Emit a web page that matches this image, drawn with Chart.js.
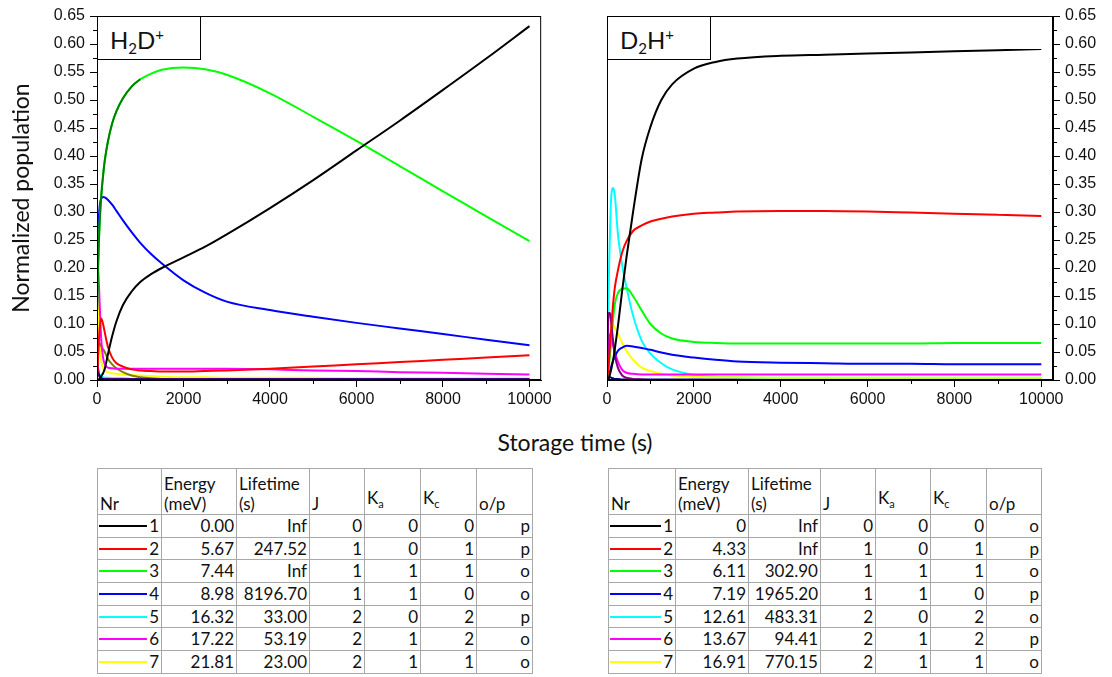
<!DOCTYPE html>
<html>
<head>
<meta charset="utf-8">
<script src="https://cdn.jsdelivr.net/npm/chart.js@4.4.1/dist/chart.umd.min.js"></script>
<style>
  body { margin: 0; background: #fff; width: 1112px; height: 677px; position: relative; overflow: hidden; }
  canvas { position: absolute; }
  #cL { left: 0; top: 0; }
  #cR { left: 557px; top: 0; }
  .tag { position: absolute; top: 16px; width: 104px; height: 44px; border: 1px solid #000; box-sizing: border-box;
         font: 24px Lato, sans-serif; color: #111; padding: 8px 0 0 12px; background: #fff; }
  .tag sub { font-size: 15px; vertical-align: -5px; }
  .tag sup { font-size: 15px; vertical-align: 9px; }
  #xTitle { position: absolute; left: 0; width: 1150px; top: 428px; text-align: center; font: 23px Lato, sans-serif; color: #111; }
  table { position: absolute; top: 468px; border-collapse: collapse; table-layout: fixed; font: 17px Lato, sans-serif; color: #111; }
  td, th { border: 1px solid #a8a8a8; padding: 0 2px; overflow: hidden; white-space: nowrap; }
  th { font-weight: normal; text-align: left; vertical-align: bottom; height: 45px; line-height: 20px; white-space: normal; }
  td { text-align: right; height: 21.7px; line-height: 20px; }
  td.nr { position: relative; }
  .sw { position: absolute; left: 1px; right: 14px; top: 50%; height: 2px; margin-top: -1px; }
  sub.k { font-size: 11px; vertical-align: -4px; }
</style>
</head>
<body>
<canvas id="cL" width="555" height="420"></canvas>
<canvas id="cR" width="555" height="420"></canvas>
<div class="tag" style="left:97px">H<sub>2</sub>D<sup>+</sup></div>
<div class="tag" style="left:607px">D<sub>2</sub>H<sup>+</sup></div>
<div id="xTitle">Storage time (s)</div>
<table id="tblL"></table>
<table id="tblR"></table>
<script>
// storage time grid (s), shared by all curves
const T = [0, 25, 50, 75, 100, 140, 180, 250, 350, 450, 600, 800, 1000, 1250, 1500, 2000, 2500, 3000, 4000, 5000, 6000, 7000, 8000, 9000, 10000];

const xTicks = [0, 2000, 4000, 6000, 8000, 10000];
const xMinor = [1000, 3000, 5000, 7000, 9000];
const yTicks = [0, 0.05, 0.1, 0.15, 0.2, 0.25, 0.3, 0.35, 0.4, 0.45, 0.5, 0.55, 0.6, 0.65];
const yMinor = [0.025, 0.075, 0.125, 0.175, 0.225, 0.275, 0.325, 0.375, 0.425, 0.475, 0.525, 0.575, 0.625];

// H2D+ populations
const h2dBlack   = [0, 0, 0.002, 0.004, 0.007, 0.012, 0.02, 0.045, 0.078, 0.105, 0.134, 0.158, 0.175, 0.189, 0.2, 0.219, 0.238, 0.26, 0.307, 0.357, 0.41, 0.463, 0.518, 0.574, 0.632];
const h2dRed     = [0, 0.04, 0.08, 0.103, 0.11, 0.1, 0.085, 0.06, 0.04, 0.03, 0.024, 0.019, 0.017, 0.016, 0.015, 0.015, 0.016, 0.017, 0.02, 0.024, 0.028, 0.032, 0.036, 0.04, 0.044];
const h2dGreen   = [0.12, 0.2, 0.26, 0.3, 0.33, 0.365, 0.392, 0.425, 0.458, 0.48, 0.503, 0.524, 0.537, 0.547, 0.554, 0.558, 0.555, 0.545, 0.512, 0.47, 0.427, 0.382, 0.337, 0.292, 0.248];
const h2dDkGreen = [0.12, 0.2, 0.26, 0.3, 0.33, 0.365, 0.392, 0.425, 0.458, 0.48, 0.503, 0.524, 0.537, null, null, null, null, null, null, null, null, null, null, null, null];
const h2dBlue    = [0.2, 0.26, 0.3, 0.318, 0.324, 0.327, 0.326, 0.322, 0.313, 0.302, 0.285, 0.264, 0.245, 0.225, 0.208, 0.178, 0.156, 0.14, 0.125, 0.113, 0.102, 0.092, 0.082, 0.072, 0.062];
const h2dCyan    = [0.03, 0.02, 0.012, 0.008, 0.006, 0.005, 0.004, 0.004, 0.003, 0.003, 0.003, 0.002, 0.002, 0.002, 0.002, 0.002, 0.001, 0.001, 0.001, 0.001, 0.001, 0.001, 0.001, 0.001, 0.001];
const h2dMagenta = [0.22, 0.2, 0.16, 0.11, 0.07, 0.04, 0.028, 0.022, 0.021, 0.02, 0.02, 0.02, 0.02, 0.02, 0.02, 0.02, 0.02, 0.02, 0.019, 0.017, 0.016, 0.014, 0.013, 0.011, 0.01];
const h2dYellow  = [0.16, 0.13, 0.08, 0.05, 0.033, 0.022, 0.017, 0.014, 0.012, 0.011, 0.01, 0.009, 0.008, 0.007, 0.006, 0.005, 0.005, 0.004, 0.004, 0.004, 0.003, 0.003, 0.003, 0.003, 0.003];
const h2dOlive   = [0.04, 0.058, 0.065, 0.064, 0.06, 0.055, 0.05, 0.038, 0.028, 0.021, 0.014, 0.008, 0.005, 0.003, 0.002, 0.001, 0, 0, 0, 0, 0, 0, 0, 0, 0];
const h2dPurple  = [0.045, 0.02, 0.008, 0.004, 0.003, 0.002, 0.002, 0.002, 0.002, 0.002, 0.002, 0.002, 0.002, 0.002, 0.002, 0.002, 0.002, 0.002, 0.002, 0.002, 0.002, 0.002, 0.002, 0.002, 0.002];
const h2dNavy    = [0.015, 0.012, 0.008, 0.005, 0.003, 0.002, 0.001, 0.001, 0.001, 0.001, 0.001, 0.001, 0.001, 0.001, 0.001, 0.001, 0.001, 0.001, 0.001, 0.001, 0.001, 0.001, 0.001, 0.001, 0.001];

// D2H+ populations
const d2hBlack   = [0, 0, 0.005, 0.012, 0.02, 0.035, 0.055, 0.095, 0.16, 0.22, 0.3, 0.395, 0.452, 0.5, 0.528, 0.556, 0.568, 0.574, 0.579, 0.581, 0.583, 0.585, 0.587, 0.589, 0.591];
const d2hRed     = [0, 0.015, 0.04, 0.07, 0.095, 0.135, 0.165, 0.195, 0.228, 0.248, 0.266, 0.276, 0.283, 0.288, 0.292, 0.297, 0.299, 0.301, 0.302, 0.302, 0.301, 0.299, 0.297, 0.295, 0.293];
const d2hGreen   = [0, 0.01, 0.03, 0.05, 0.072, 0.108, 0.135, 0.155, 0.163, 0.164, 0.15, 0.124, 0.1, 0.083, 0.074, 0.068, 0.066, 0.065, 0.065, 0.065, 0.065, 0.065, 0.066, 0.066, 0.066];
const d2hBlue    = [0, 0.005, 0.012, 0.018, 0.025, 0.035, 0.042, 0.052, 0.058, 0.061, 0.06, 0.057, 0.054, 0.049, 0.045, 0.04, 0.036, 0.033, 0.031, 0.03, 0.029, 0.029, 0.028, 0.028, 0.028];
const d2hCyan    = [0, 0.11, 0.21, 0.28, 0.33, 0.343, 0.33, 0.262, 0.205, 0.165, 0.115, 0.07, 0.047, 0.03, 0.019, 0.009, 0.006, 0.005, 0.004, 0.004, 0.004, 0.004, 0.004, 0.004, 0.004];
const d2hMagenta = [0, 0.05, 0.075, 0.082, 0.075, 0.062, 0.05, 0.033, 0.018, 0.013, 0.011, 0.01, 0.01, 0.01, 0.01, 0.01, 0.01, 0.01, 0.01, 0.01, 0.01, 0.01, 0.01, 0.01, 0.01];
const d2hYellow  = [0, 0.03, 0.06, 0.085, 0.095, 0.098, 0.093, 0.083, 0.066, 0.052, 0.036, 0.022, 0.016, 0.011, 0.008, 0.006, 0.005, 0.005, 0.004, 0.004, 0.004, 0.004, 0.004, 0.004, 0.004];
const d2hPurple  = [0, 0.1, 0.12, 0.118, 0.1, 0.07, 0.045, 0.022, 0.008, 0.004, 0.002, 0.001, 0, 0, 0, 0, 0, 0, 0, 0, 0, 0, 0, 0, 0];
const d2hNavy    = [0, 0.004, 0.005, 0.005, 0.004, 0.003, 0.002, 0.002, 0.001, 0.001, 0.001, 0.001, 0.001, 0.001, 0.001, 0.001, 0.001, 0.001, 0.001, 0.001, 0.001, 0.001, 0.001, 0.001, 0.001];

// level tables
const stateNr     = [1, 2, 3, 4, 5, 6, 7];
const stateColors = ["#000000", "#ff0000", "#00ff00", "#0000ff", "#00ffff", "#ff00ff", "#ffff00"];
const h2dEnergy   = ["0.00", "5.67", "7.44", "8.98", "16.32", "17.22", "21.81"];
const h2dLifetime = ["Inf", "247.52", "Inf", "8196.70", "33.00", "53.19", "23.00"];
const h2dJ        = [0, 1, 1, 1, 2, 2, 2];
const h2dKa       = [0, 0, 1, 1, 0, 1, 1];
const h2dKc       = [0, 1, 1, 0, 2, 2, 1];
const h2dOP       = ["p", "p", "o", "o", "p", "o", "o"];
const d2hEnergy   = ["0", "4.33", "6.11", "7.19", "12.61", "13.67", "16.91"];
const d2hLifetime = ["Inf", "Inf", "302.90", "1965.20", "483.31", "94.41", "770.15"];
const d2hJ        = [0, 1, 1, 1, 2, 2, 2];
const d2hKa       = [0, 0, 1, 1, 0, 1, 1];
const d2hKc       = [0, 1, 1, 0, 2, 2, 1];
const d2hOP       = ["o", "p", "o", "p", "o", "p", "o"];

const pts = vals => T.map((t, i) => ({ x: t, y: vals[i] }));

function line(vals, color) {
  return {
    data: pts(vals),
    borderColor: color,
    borderWidth: 2,
    pointRadius: 0,
    fill: false,
    cubicInterpolationMode: "monotone",
    spanGaps: false
  };
}

// frame + minor ticks
const framePlugin = {
  id: "frame",
  afterDraw(chart) {
    const { ctx, chartArea: a, scales } = chart;
    const x = scales.x, y = scales.y;
    ctx.save();
    ctx.strokeStyle = "#000";
    ctx.lineWidth = 1;
    ctx.strokeRect(a.left + 0.5, a.top + 0.5, a.right - a.left - 1, a.bottom - a.top - 1);
    ctx.beginPath();
    xMinor.forEach(v => {
      const px = Math.round(x.getPixelForValue(v)) + 0.5;
      ctx.moveTo(px, a.bottom);
      ctx.lineTo(px, a.bottom + 4);
    });
    const right = y.position === "right";
    yMinor.forEach(v => {
      const py = Math.round(y.getPixelForValue(v)) + 0.5;
      const ax = right ? a.right : a.left;
      ctx.moveTo(ax, py);
      ctx.lineTo(right ? ax + 4 : ax - 4, py);
    });
    ctx.stroke();
    ctx.restore();
  }
};

function makeChart(id, datasets, side, yWidth, pad) {
  return new Chart(document.getElementById(id), {
    type: "line",
    data: { datasets },
    plugins: [framePlugin],
    options: {
      responsive: false,
      animation: false,
      layout: { padding: pad },
      plugins: { legend: { display: false }, tooltip: { enabled: false } },
      scales: {
        x: {
          type: "linear",
          min: 0,
          max: 10270,
          afterBuildTicks: s => { s.ticks = xTicks.map(v => ({ value: v })); },
          afterFit: s => { s.height = 40; },
          ticks: {
            includeBounds: false,
            padding: 3,
            color: "#111",
            font: { family: "Liberation Sans", size: 16 },
            callback: v => String(v)
          },
          grid: { drawOnChartArea: false, tickLength: 7, color: "#000" },
          border: { color: "#000", width: 1 }
        },
        y: {
          position: side,
          min: 0,
          max: 0.65,
          afterBuildTicks: s => { s.ticks = yTicks.map(v => ({ value: v })); },
          afterFit: s => { s.width = yWidth; },
          ticks: {
            padding: 5,
            color: "#111",
            font: { family: "Liberation Sans", size: 16 },
            callback: v => v.toFixed(2)
          },
          grid: { drawOnChartArea: false, tickLength: 7, color: "#000" },
          border: { color: "#000", width: 1 },
          title: side === "left" ? {
            display: true,
            text: "Normalized population",
            color: "#111",
            font: { family: "Lato", size: 23 },
            padding: { top: 8, bottom: 0 }
          } : { display: false }
        }
      }
    }
  });
}

makeChart("cL", [
  line(h2dBlack, "#000000"),
  line(h2dDkGreen, "#008000"),
  line(h2dGreen, "#00ff00"),
  line(h2dBlue, "#0000ff"),
  line(h2dRed, "#ff0000"),
  line(h2dMagenta, "#ff00ff"),
  line(h2dNavy, "#000080"),
  line(h2dPurple, "#800080"),
  line(h2dOlive, "#808000"),
  line(h2dYellow, "#ffff00"),
  line(h2dCyan, "#00ffff")
], "left", 97, { top: 16, right: 10, left: 0, bottom: 0 });

makeChart("cR", [
  line(d2hBlack, "#000000"),
  line(d2hRed, "#ff0000"),
  line(d2hPurple, "#800080"),
  line(d2hGreen, "#00ff00"),
  line(d2hBlue, "#0000ff"),
  line(d2hMagenta, "#ff00ff"),
  line(d2hYellow, "#ffff00"),
  line(d2hCyan, "#00ffff"),
  line(d2hNavy, "#000080")
], "right", 59, { top: 16, right: 0, left: 50, bottom: 0 });

function buildTable(id, left, widths, energy, life, J, Ka, Kc, op) {
  const tbl = document.getElementById(id);
  tbl.style.left = left + "px";
  tbl.style.width = widths.reduce((a, b) => a + b, 0) + "px";
  let html = "<colgroup>" + widths.map(w => `<col style="width:${w}px">`).join("") + "</colgroup>";
  html += "<tr><th>Nr</th><th>Energy (meV)</th><th>Lifetime (s)</th><th>J</th>" +
          "<th>K<sub class='k'>a</sub></th><th>K<sub class='k'>c</sub></th><th>o/p</th></tr>";
  stateNr.forEach((n, i) => {
    html += `<tr><td class="nr"><span class="sw" style="background:${stateColors[i]}"></span>${n}</td>` +
            `<td>${energy[i]}</td><td>${life[i]}</td><td>${J[i]}</td><td>${Ka[i]}</td><td>${Kc[i]}</td><td>${op[i]}</td></tr>`;
  });
  tbl.innerHTML = html;
}

buildTable("tblL", 97, [64, 75, 73, 55, 56, 56, 56], h2dEnergy, h2dLifetime, h2dJ, h2dKa, h2dKc, h2dOP);
buildTable("tblR", 608, [67, 73, 72, 55, 55, 56, 55], d2hEnergy, d2hLifetime, d2hJ, d2hKa, d2hKc, d2hOP);
</script>
</body>
</html>
